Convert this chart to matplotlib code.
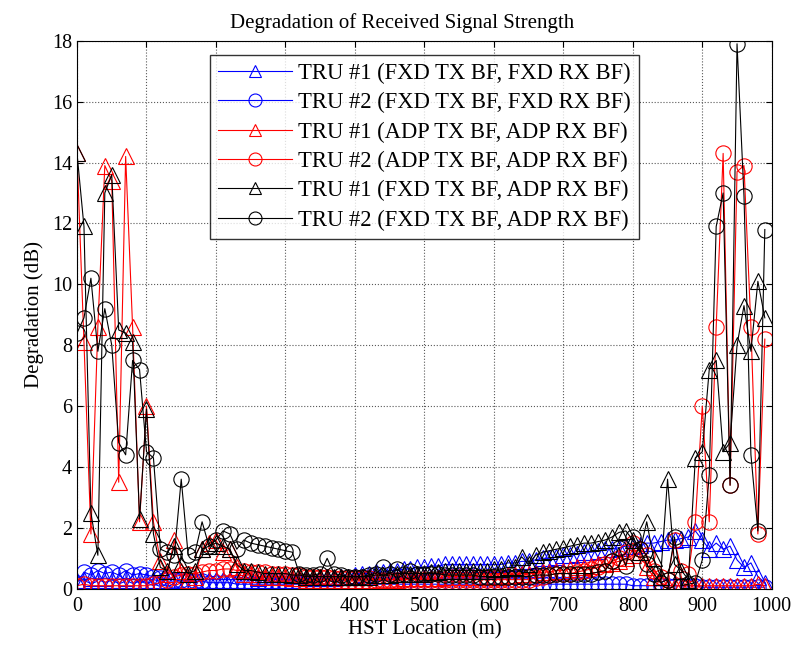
import numpy as np
import matplotlib
matplotlib.use('Agg')
import matplotlib.pyplot as plt

plt.rcParams['font.family'] = ['Liberation Serif', 'DejaVu Serif']

# HST location (m)
location = np.arange(0, 1000, 10)

# TRU #1 (FXD TX BF, FXD RX BF)
fxd_fxd_tru1 = [
    0.25, 0.3, 0.35, 0.3, 0.35, 0.3, 0.3, 0.35, 0.3, 0.3,
    0.3, 0.3, 0.25, 0.3, 0.3, 0.25, 0.3, 0.3, 0.3, 0.3,
    0.3, 0.3, 0.3, 0.3, 0.3, 0.3, 0.35, 0.3, 0.3, 0.3,
    0.3, 0.3, 0.3, 0.35, 0.3, 0.35, 0.35, 0.35, 0.4, 0.4,
    0.45, 0.5, 0.5, 0.55, 0.55, 0.6, 0.6, 0.65, 0.65, 0.7,
    0.7, 0.75, 0.75, 0.8, 0.8, 0.8, 0.8, 0.8, 0.8, 0.8,
    0.8, 0.8, 0.85, 0.85, 0.9, 0.9, 0.95, 1.0, 1.0, 1.05,
    1.1, 1.1, 1.15, 1.2, 1.2, 1.25, 1.3, 1.3, 1.35, 1.4,
    1.4, 1.45, 1.5, 1.5, 1.55, 1.6, 1.6, 1.65, 1.7, 1.9,
    1.6, 1.3, 1.5, 1.3, 1.4, 0.95, 0.7, 0.85, 0.4, 0.2,
]

# TRU #2 (FXD TX BF, FXD RX BF)
fxd_fxd_tru2 = [
    0.2, 0.55, 0.45, 0.6, 0.5, 0.55, 0.45, 0.6, 0.45, 0.5,
    0.45, 0.4, 0.35, 0.35, 0.3, 0.3, 0.25, 0.25, 0.25, 0.2,
    0.2, 0.2, 0.2, 0.15, 0.15, 0.15, 0.15, 0.15, 0.15, 0.15,
    0.15, 0.15, 0.15, 0.15, 0.15, 0.15, 0.15, 0.15, 0.15, 0.15,
    0.15, 0.15, 0.15, 0.15, 0.15, 0.15, 0.15, 0.15, 0.15, 0.15,
    0.15, 0.15, 0.15, 0.15, 0.15, 0.15, 0.15, 0.15, 0.15, 0.15,
    0.15, 0.15, 0.15, 0.15, 0.15, 0.15, 0.15, 0.15, 0.15, 0.15,
    0.15, 0.15, 0.15, 0.15, 0.15, 0.15, 0.15, 0.15, 0.15, 0.15,
    0.1, 0.1, 0.1, 0.1, 0.1, 0.1, 0.1, 0.1, 0.1, 0.1,
    0.05, 0.05, 0.05, 0.05, 0.05, 0.05, 0.05, 0.05, 0.05, 0.05,
]

# TRU #1 (ADP TX BF, ADP RX BF)
adp_adp_tru1 = [
    14.3, 8.1, 1.8, 8.6, 13.9, 13.4, 3.5, 14.2, 8.6, 2.2,
    6.0, 2.2, 0.9, 0.5, 1.6, 0.6, 0.3, 0.4, 1.3, 1.5,
    1.6, 1.2, 1.3, 0.7, 0.5, 0.5, 0.4, 0.4, 0.4, 0.4,
    0.4, 0.35, 0.35, 0.3, 0.3, 0.3, 0.3, 0.3, 0.3, 0.3,
    0.3, 0.3, 0.3, 0.3, 0.3, 0.3, 0.3, 0.35, 0.35, 0.35,
    0.35, 0.35, 0.35, 0.4, 0.4, 0.4, 0.4, 0.4, 0.4, 0.4,
    0.4, 0.4, 0.45, 0.45, 0.5, 0.5, 0.5, 0.55, 0.55, 0.6,
    0.6, 0.65, 0.7, 0.7, 0.75, 0.8, 0.8, 0.85, 0.9, 1.0,
    1.1, 1.2, 0.7, 0.4, 0.2, 0.1, 0.1, 0.1, 0.1, 0.1,
    0.1, 0.1, 0.1, 0.1, 0.1, 0.1, 0.1, 0.1, 0.15, 0.1,
]

# TRU #2 (ADP TX BF, ADP RX BF)
adp_adp_tru2 = [
    0.1, 0.15, 0.1, 0.1, 0.1, 0.1, 0.1, 0.1, 0.1, 0.1,
    0.1, 0.15, 0.2, 0.3, 0.4, 0.45, 0.5, 0.5, 0.55, 0.6,
    0.6, 0.65, 0.65, 0.6, 0.6, 0.55, 0.55, 0.55, 0.5, 0.5,
    0.5, 0.45, 0.45, 0.4, 0.4, 0.4, 0.4, 0.35, 0.35, 0.35,
    0.35, 0.35, 0.35, 0.3, 0.3, 0.3, 0.3, 0.3, 0.3, 0.3,
    0.3, 0.3, 0.3, 0.3, 0.3, 0.3, 0.3, 0.3, 0.3, 0.3,
    0.3, 0.3, 0.3, 0.3, 0.3, 0.3, 0.35, 0.4, 0.45, 0.5,
    0.5, 0.5, 0.55, 0.6, 0.65, 0.7, 0.8, 0.9, 1.0, 1.2,
    1.5, 1.3, 1.1, 0.6, 0.4, 0.3, 1.6, 0.6, 0.5, 2.2,
    6.0, 2.2, 8.6, 14.3, 3.4, 13.7, 13.9, 8.6, 1.8, 8.2,
]

# TRU #1 (FXD TX BF, ADP RX BF)
fxd_adp_tru1 = [
    14.3, 11.9, 2.5, 1.1, 13.0, 13.6, 8.5, 8.4, 8.1, 2.3,
    5.9, 1.8, 0.7, 0.6, 1.4, 0.8, 0.5, 0.6, 1.3, 1.4,
    1.5, 1.4, 1.3, 0.8, 0.6, 0.6, 0.55, 0.5, 0.5, 0.5,
    0.5, 0.45, 0.45, 0.4, 0.4, 0.4, 0.4, 0.4, 0.4, 0.4,
    0.4, 0.4, 0.4, 0.45, 0.45, 0.45, 0.5, 0.5, 0.5, 0.5,
    0.5, 0.55, 0.55, 0.6, 0.6, 0.6, 0.6, 0.6, 0.6, 0.6,
    0.65, 0.65, 0.7, 0.7, 1.05, 0.8, 1.1, 1.2, 1.25, 1.3,
    1.35, 1.4, 1.45, 1.5, 1.5, 1.55, 1.6, 1.7, 1.85, 1.9,
    1.6, 1.2, 2.2, 1.0, 0.4, 3.6, 0.8, 0.6, 0.3, 4.3,
    4.5, 7.2, 7.5, 4.5, 4.8, 8.0, 9.3, 7.8, 10.1, 8.9,
]

# TRU #2 (FXD TX BF, ADP RX BF)
fxd_adp_tru2 = [
    8.4, 8.9, 10.2, 7.8, 9.2, 8.0, 4.8, 4.4, 7.5, 7.2,
    4.5, 4.3, 1.3, 1.2, 1.1, 3.6, 1.1, 1.2, 2.2, 1.4,
    1.6, 1.9, 1.8, 1.3, 1.6, 1.5, 1.45, 1.4, 1.35, 1.3,
    1.25, 1.2, 0.5, 0.45, 0.45, 0.5, 1.0, 0.5, 0.45, 0.4,
    0.4, 0.4, 0.45, 0.5, 0.7, 0.5, 0.65, 0.5, 0.6, 0.5,
    0.5, 0.5, 0.5, 0.45, 0.45, 0.45, 0.45, 0.45, 0.4, 0.4,
    0.4, 0.4, 0.4, 0.4, 0.4, 0.4, 0.45, 0.45, 0.45, 0.5,
    0.5, 0.5, 0.5, 0.5, 0.5, 0.55, 0.6, 0.9, 1.35, 0.75,
    1.7, 1.3, 0.8, 0.5, 0.2, 0.3, 1.7, 0.1, 0.15, 0.2,
    0.95, 3.75, 11.9, 13.0, 3.4, 17.9, 12.9, 4.4, 1.9, 11.8,
]

series = [
    (fxd_fxd_tru1, 'b', '^', 'TRU #1 (FXD TX BF, FXD RX BF)'),
    (fxd_fxd_tru2, 'b', 'o', 'TRU #2 (FXD TX BF, FXD RX BF)'),
    (adp_adp_tru1, 'r', '^', 'TRU #1 (ADP TX BF, ADP RX BF)'),
    (adp_adp_tru2, 'r', 'o', 'TRU #2 (ADP TX BF, ADP RX BF)'),
    (fxd_adp_tru1, 'k', '^', 'TRU #1 (FXD TX BF, ADP RX BF)'),
    (fxd_adp_tru2, 'k', 'o', 'TRU #2 (FXD TX BF, ADP RX BF)'),
]

fig = plt.figure(figsize=(7.94, 6.47), dpi=100)
ax = fig.add_axes([0.097, 0.090, 0.875, 0.847])

for values, color, marker, label in series:
    ax.plot(location, values, color=color, marker=marker, markersize=11,
            markerfacecolor='none', markeredgewidth=0.8, linewidth=0.8,
            label=label)

ax.set_xlim(0, 1000)
ax.set_ylim(0, 18)
ax.set_xticks(np.arange(0, 1001, 100))
ax.set_yticks(np.arange(0, 19, 2))
ax.tick_params(direction='in', top=True, right=True, labelsize=14.5, length=4)
ax.tick_params(axis='x', pad=6)
ax.grid(True, linestyle=':', color='0.35', linewidth=0.8)
for spine in ax.spines.values():
    spine.set_linewidth(0.8)

ax.set_title('Degradation of Received Signal Strength', fontsize=15, pad=9,
             x=0.468)
ax.set_xlabel('HST Location (m)', fontsize=15, labelpad=3)
ax.set_ylabel('Degradation (dB)', fontsize=15, labelpad=6)

leg = ax.legend(loc='upper left', bbox_to_anchor=(0.191, 0.974), fontsize=16.3,
                frameon=True, fancybox=False, edgecolor='k', markerscale=0.85,
                handlelength=3.3, labelspacing=0.36, borderpad=0.35,
                handletextpad=0.25, borderaxespad=0)
leg.get_frame().set_linewidth(1.0)

fig.savefig('out.png', dpi=100, facecolor='white')
